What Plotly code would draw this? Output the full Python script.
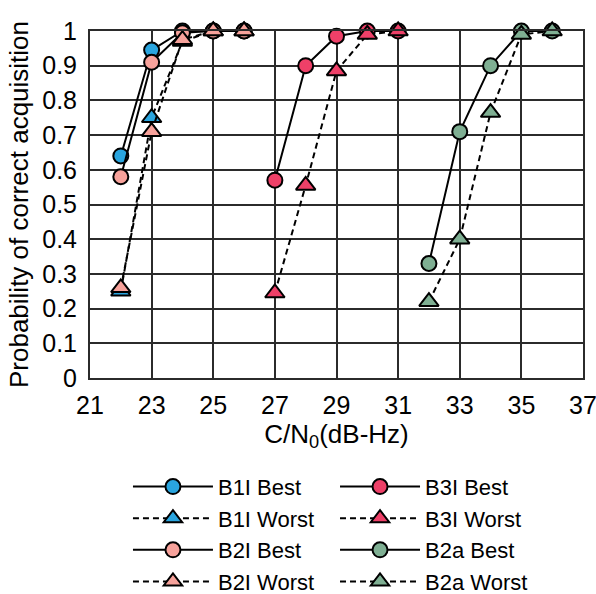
import plotly.graph_objects as go

# C/N0 levels (dB-Hz) and acquisition probabilities per signal
b1i_x = [22, 23, 24, 25, 26]
b1i_best = [0.64, 0.945, 1.0, 1.0, 1.0]
b1i_worst = [0.25, 0.75, 0.97, 1.0, 1.0]

b2i_x = [22, 23, 24, 25, 26]
b2i_best = [0.58, 0.91, 0.995, 1.0, 1.0]
b2i_worst = [0.26, 0.71, 0.975, 1.0, 1.0]

b3i_x = [27, 28, 29, 30, 31]
b3i_best = [0.57, 0.90, 0.985, 1.0, 1.0]
b3i_worst = [0.245, 0.555, 0.885, 0.99, 1.0]

b2a_x = [32, 33, 34, 35, 36]
b2a_best = [0.33, 0.71, 0.90, 1.0, 1.0]
b2a_worst = [0.22, 0.40, 0.765, 0.99, 1.0]

x_ticks = [21, 23, 25, 27, 29, 31, 33, 35, 37]
y_ticks = [0, 0.1, 0.2, 0.3, 0.4, 0.5, 0.6, 0.7, 0.8, 0.9, 1]
y_tick_text = ["0", "0.1", "0.2", "0.3", "0.4", "0.5", "0.6", "0.7", "0.8", "0.9", "1"]

C_B1I = "#2AA5DF"
C_B2I = "#F7A29B"
C_B3I = "#EE4068"
C_B2A = "#7FAF93"

FONT = "Liberation Sans, Arial, sans-serif"
GRID = "#2b2b2b"

fig = go.Figure()


def add_series(x, y, name, color, worst, legend, rank):
    fig.add_trace(go.Scatter(
        x=x, y=y, name=name, mode="lines+markers",
        line=dict(color="black", width=2, dash="6px,4px" if worst else "solid"),
        marker=dict(symbol="triangle-up" if worst else "circle",
                    size=17 if worst else 15, color=color,
                    line=dict(color="black", width=2)),
        cliponaxis=False, legend=legend, legendgroup=name, legendrank=rank,
    ))


add_series(b1i_x, b1i_best, "B1I Best", C_B1I, False, "legend", 1)
add_series(b1i_x, b1i_worst, "B1I Worst", C_B1I, True, "legend", 2)
add_series(b2i_x, b2i_best, "B2I Best", C_B2I, False, "legend", 3)
add_series(b2i_x, b2i_worst, "B2I Worst", C_B2I, True, "legend", 4)
add_series(b3i_x, b3i_best, "B3I Best", C_B3I, False, "legend2", 1)
add_series(b3i_x, b3i_worst, "B3I Worst", C_B3I, True, "legend2", 2)
add_series(b2a_x, b2a_best, "B2a Best", C_B2A, False, "legend2", 3)
add_series(b2a_x, b2a_worst, "B2a Worst", C_B2A, True, "legend2", 4)

legend_style = dict(
    orientation="v", yanchor="top", y=-0.253, xanchor="left",
    font=dict(family=FONT, size=22, color="black"),
    bgcolor="rgba(0,0,0,0)", tracegroupgap=0, itemwidth=80,
)

fig.update_layout(
    width=596, height=594,
    margin=dict(l=90, r=13, t=31, b=216, autoexpand=False),
    paper_bgcolor="white", plot_bgcolor="white",
    font=dict(family=FONT, color="black"),
    showlegend=True,
    legend=dict(x=0.077, **legend_style),
    legend2=dict(x=0.497, **legend_style),
    xaxis=dict(
        range=[21, 37], tickmode="array", tickvals=x_ticks,
        showgrid=True, gridcolor=GRID, gridwidth=2,
        showline=True, linecolor=GRID, linewidth=2, mirror=True,
        zeroline=False, ticks="", ticklabelstandoff=4,
        ticklabeloverflow="allow",
        tickfont=dict(family=FONT, size=25, color="black"),
        title=dict(text="C/N<sub>0</sub>(dB-Hz)", standoff=6,
                   font=dict(family=FONT, size=26, color="black")),
    ),
    yaxis=dict(
        range=[0, 1], tickmode="array", tickvals=y_ticks, ticktext=y_tick_text,
        showgrid=True, gridcolor=GRID, gridwidth=2,
        showline=True, linecolor=GRID, linewidth=2, mirror=True,
        zeroline=False, ticks="", ticklabelstandoff=6,
        ticklabeloverflow="allow",
        tickfont=dict(family=FONT, size=25, color="black"),
        title=dict(text="Probability of correct acquisition", standoff=6,
                   font=dict(family=FONT, size=26, color="black")),
    ),
)

fig.write_html("out.html")
